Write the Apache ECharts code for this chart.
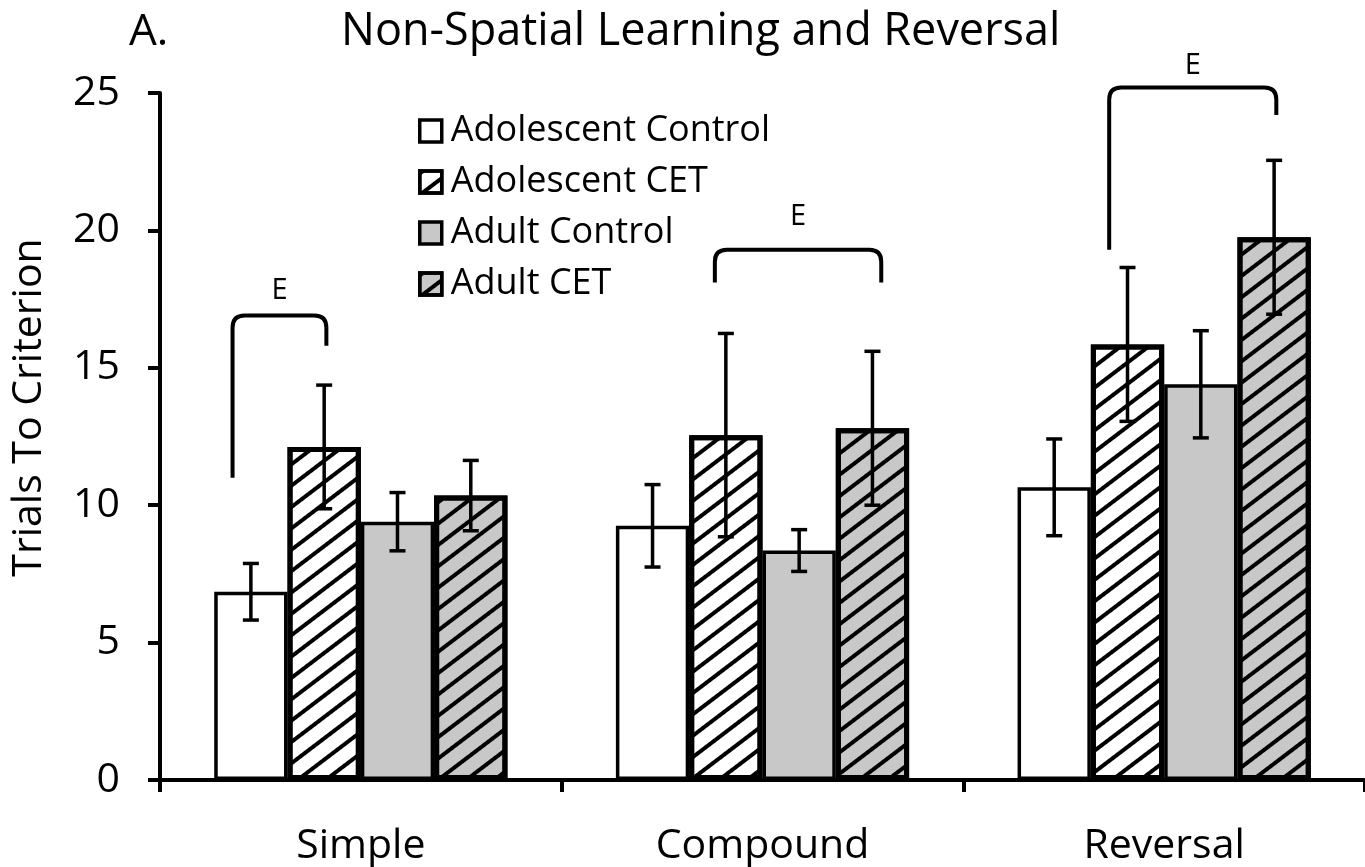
<!DOCTYPE html>
<html>
<head>
<meta charset="utf-8">
<script src="https://cdn.jsdelivr.net/npm/echarts@6/dist/echarts.min.js"></script>
<style>
  html, body { margin: 0; padding: 0; background: #fff; }
  #chart { width: 1365px; height: 867px; }
</style>
</head>
<body>
<div id="chart"></div>
<script>
const categories = ['Simple', 'Compound', 'Reversal']
const groups = ['Adolescent Control', 'Adolescent CET', 'Adult Control', 'Adult CET']

const adolControl = [6.85, 9.25, 10.65]
const adolControlErr = [1.03, 1.5, 1.76]
const adolCET = [12.12, 12.55, 15.85]
const adolCETErr = [2.25, 3.7, 2.8]
const adultControl = [9.4, 8.35, 14.4]
const adultControlErr = [1.06, 0.76, 1.95]
const adultCET = [10.35, 12.8, 19.75]
const adultCETErr = [1.28, 2.8, 2.8]

// significance brackets: category, from/to bar slot, left end, top, right end, label height
const bracketCat = [0, 1, 2]
const bracketFrom = [-0.25, 0.85, 0.75]
const bracketTo = [1.03, 3.12, 3.03]
const bracketLeftY = [11.0, 18.1, 19.3]
const bracketTopY = [16.9, 19.3, 25.2]
const bracketRightY = [15.8, 18.1, 24.2]
const bracketLabelY = [17.8, 20.5, 26.0]
const bracketLabel = ['E', 'E', 'E']

const yTicks = [0, 5, 10, 15, 20, 25]

const means = [adolControl, adolCET, adultControl, adultCET]
const errs = [adolControlErr, adolCETErr, adultControlErr, adultCETErr]

const FONT = 'Open Sans'
const CAT_GAP = 0.27

const hatch = {
  symbol: 'rect',
  symbolSize: 1,
  color: '#000',
  dashArrayX: [1, 0],
  dashArrayY: [4, 13],
  rotation: -0.65
}

const barStyles = [
  { color: '#fff', borderColor: '#000', borderWidth: 3.5 },
  { color: '#fff', borderColor: '#000', borderWidth: 5, decal: hatch },
  { color: '#c8c8c8', borderColor: '#000', borderWidth: 3.5 },
  { color: '#c8c8c8', borderColor: '#000', borderWidth: 5, decal: hatch }
]

function slotX(api, cat, slot) {
  const cw = api.size([1, 0])[0]
  const bw = cw * (1 - CAT_GAP) / groups.length
  return api.coord([cat, 0])[0] + (slot - (groups.length - 1) / 2) * bw
}

const errData = []
means.forEach((m, g) => {
  m.forEach((v, c) => errData.push([c, v - errs[g][c], v + errs[g][c], g]))
})

const bracketData = bracketCat.map((c, i) => [c, bracketFrom[i], bracketTo[i], bracketLeftY[i], bracketTopY[i], bracketRightY[i], bracketLabelY[i]])

const chart = echarts.init(document.getElementById('chart'), null, { renderer: 'canvas' })

const option = {
  animation: false,
  backgroundColor: '#fff',
  textStyle: { fontFamily: FONT },
  title: [
    { text: 'A.', left: 124, top: 5, textStyle: { fontSize: 44, fontWeight: 'normal', color: '#000', fontFamily: FONT } },
    { text: 'Non-Spatial Learning and Reversal', left: 336, top: 5, textStyle: { fontSize: 45, fontWeight: 'normal', color: '#000', fontFamily: FONT } }
  ],
  legend: {
    data: groups,
    orient: 'vertical',
    left: 413,
    top: 108,
    itemGap: 15,
    itemWidth: 22,
    itemHeight: 22,
    icon: 'rect',
    itemStyle: { borderWidth: 3.5, borderColor: '#000' },
    textStyle: { fontSize: 36, color: '#000', fontFamily: FONT, lineHeight: 34, padding: [0, 0, 0, 4] },
    selectedMode: false
  },
  grid: { left: 160, right: 0, top: 93, bottom: 87, containLabel: false },
  xAxis: {
    type: 'category',
    data: categories,
    axisLine: { lineStyle: { color: '#000', width: 4 } },
    axisTick: { show: true, length: 12, lineStyle: { color: '#000', width: 4 } },
    axisLabel: { fontSize: 41, color: '#000', margin: 46, fontFamily: FONT }
  },
  yAxis: {
    type: 'value',
    min: yTicks[0],
    max: yTicks[yTicks.length - 1],
    interval: 5,
    name: 'Trials To Criterion',
    nameLocation: 'middle',
    nameGap: 110,
    nameTextStyle: { fontSize: 41, color: '#000', fontFamily: FONT, padding: [0, 0, 0, 58] },
    axisLine: { show: true, lineStyle: { color: '#000', width: 4 } },
    axisTick: { show: true, length: 12, lineStyle: { color: '#000', width: 4 } },
    axisLabel: { fontSize: 41, color: '#000', margin: 40, fontFamily: FONT },
    splitLine: { show: false }
  },
  series: [
    ...groups.map((name, g) => ({
      name,
      type: 'bar',
      data: means[g],
      barGap: '0%',
      barCategoryGap: (CAT_GAP * 100) + '%',
      itemStyle: barStyles[g],
      z: 2
    })),
    {
      type: 'custom',
      name: 'err',
      data: errData,
      z: 5,
      renderItem: (params, api) => {
        const x = slotX(api, api.value(0), api.value(3))
        const lo = api.coord([api.value(0), api.value(1)])[1]
        const hi = api.coord([api.value(0), api.value(2)])[1]
        const cap = 8
        const st = { stroke: '#000', lineWidth: 3.5 }
        return {
          type: 'group',
          children: [
            { type: 'line', shape: { x1: x, y1: lo, x2: x, y2: hi }, style: st },
            { type: 'line', shape: { x1: x - cap, y1: lo, x2: x + cap, y2: lo }, style: st },
            { type: 'line', shape: { x1: x - cap, y1: hi, x2: x + cap, y2: hi }, style: st }
          ]
        }
      }
    },
    {
      type: 'custom',
      name: 'brackets',
      data: bracketData,
      clip: false,
      z: 6,
      renderItem: (params, api) => {
        const c = api.value(0)
        const xl = slotX(api, c, api.value(1))
        const xr = slotX(api, c, api.value(2))
        const yl = api.coord([c, api.value(3)])[1]
        const yt = api.coord([c, api.value(4)])[1]
        const yr = api.coord([c, api.value(5)])[1]
        const ye = api.coord([c, api.value(6)])[1]
        const r = 12
        const d = `M${xl},${yl} L${xl},${yt + r} Q${xl},${yt} ${xl + r},${yt} L${xr - r},${yt} Q${xr},${yt} ${xr},${yt + r} L${xr},${yr}`
        return {
          type: 'group',
          children: [
            { type: 'path', shape: { pathData: d }, style: { stroke: '#000', fill: 'none', lineWidth: 4 } },
            { type: 'text', x: (xl + xr) / 2, y: ye, style: { text: bracketLabel[params.dataIndex], fontSize: 29, fontFamily: FONT, fill: '#000', align: 'center', verticalAlign: 'middle' } }
          ]
        }
      }
    }
  ]
}

chart.setOption(option)
</script>
</body>
</html>
